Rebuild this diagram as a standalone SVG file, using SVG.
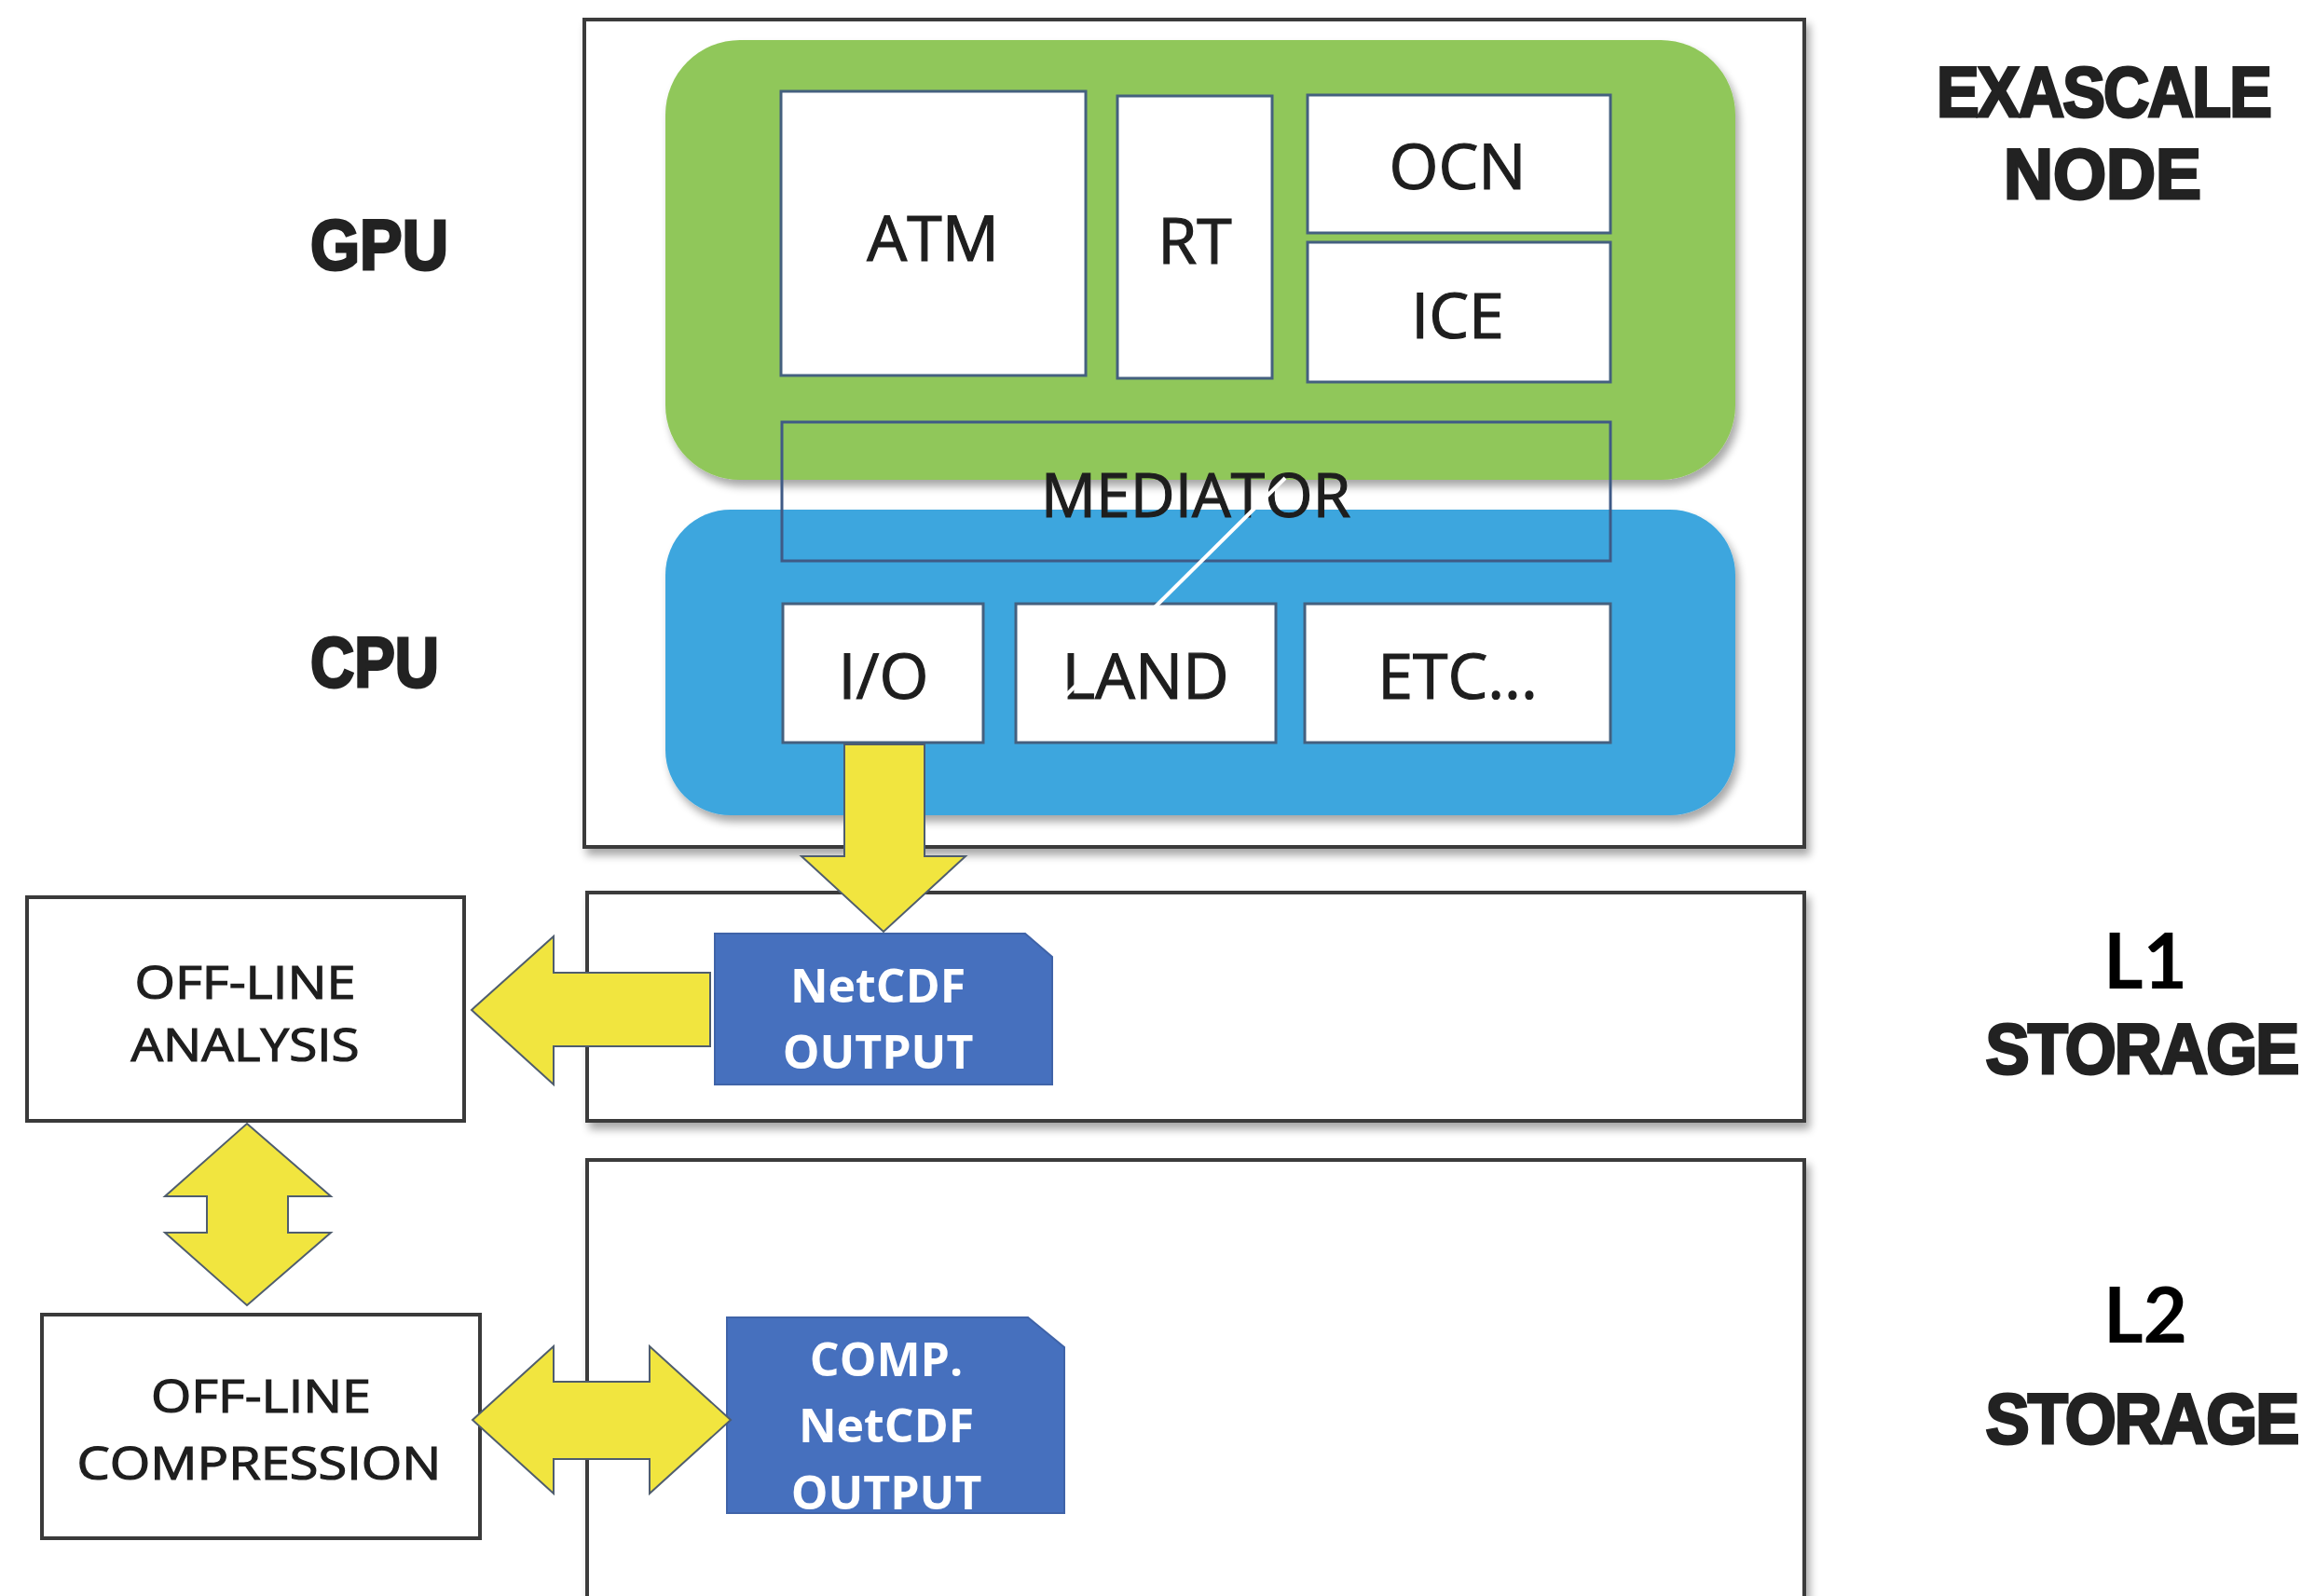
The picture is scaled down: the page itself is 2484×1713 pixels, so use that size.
<svg xmlns="http://www.w3.org/2000/svg" width="2484" height="1713" viewBox="0 0 2484 1713">
<defs>
<filter id="sh" x="-5%" y="-5%" width="110%" height="115%">
<feGaussianBlur in="SourceAlpha" stdDeviation="5"/>
<feOffset dx="4" dy="7" result="b"/>
<feComponentTransfer><feFuncA type="linear" slope="0.35"/></feComponentTransfer>
<feMerge><feMergeNode/><feMergeNode in="SourceGraphic"/></feMerge>
</filter>
<style>
.frame{fill:#fff;stroke:#3a3a3a;stroke-width:4}
.inner{fill:#fff;stroke:#44607f;stroke-width:3}
.doc{fill:#4670be;stroke:#3f63a8;stroke-width:2}
.arr{fill:#f1e53f;stroke:#4f5d6e;stroke-width:2;stroke-linejoin:miter}
.lbl{font-family:"Open Sans","Liberation Sans",sans-serif;fill:#1e1e1e;stroke:#1e1e1e;stroke-width:1.2;text-anchor:middle}
.doct{font-family:"Open Sans","Liberation Sans",sans-serif;font-weight:bold;fill:#fff;text-anchor:middle;font-size:50px}
.side{font-family:"Liberation Sans",Arial,sans-serif;font-weight:bold;fill:#222;stroke:#222;stroke-width:3;font-size:76px}
.sidec{font-family:"Liberation Sans",Arial,sans-serif;font-weight:bold;fill:#222;stroke:#222;stroke-width:3;font-size:76px;text-anchor:middle;letter-spacing:-2px}
.lev{font-family:Lato,"Open Sans",sans-serif;font-weight:bold;fill:#000;text-anchor:middle;font-size:82px}
</style>
</defs>
<rect width="2484" height="1713" fill="#fff"/>

<g id="exascale-node">
<rect class="frame" x="627" y="21" width="1309" height="888" filter="url(#sh)"/>
</g>
<g id="l1-storage">
<rect class="frame" x="630" y="958" width="1306" height="245" filter="url(#sh)"/>
</g>
<g id="l2-storage">
<rect class="frame" x="630" y="1245" width="1306" height="520" filter="url(#sh)"/>
</g>

<g id="gpu">
<rect x="714" y="43" width="1148" height="472" rx="80" ry="80" fill="#90c75a" filter="url(#sh)"/>
</g>
<g id="cpu">
<rect x="714" y="547" width="1148" height="328" rx="70" ry="70" fill="#3ca6de" filter="url(#sh)"/>
</g>

<g id="atm"><rect class="inner" x="838" y="98" width="327" height="305"/><text class="lbl" x="1001" y="280" font-size="68">ATM</text></g>
<g id="rt"><rect class="inner" x="1199" y="103" width="166" height="303"/><text class="lbl" x="1282" y="283" font-size="68">RT</text></g>
<g id="ocn"><rect class="inner" x="1403" y="102" width="325" height="148"/><text class="lbl" x="1564" y="203" font-size="68">OCN</text></g>
<g id="ice"><rect class="inner" x="1403" y="260" width="325" height="150"/><text class="lbl" x="1564" y="363" font-size="68">ICE</text></g>
<g id="mediator"><rect x="839" y="453" width="889" height="149" fill="none" stroke="#3f5a86" stroke-width="3"/><text class="lbl" x="1283" y="555" font-size="66">MEDIATOR</text></g>
<g id="io"><rect class="inner" x="840" y="648" width="215" height="149"/><text class="lbl" x="948" y="750" font-size="68">I/O</text></g>
<g id="land"><rect class="inner" x="1090" y="648" width="279" height="149"/><text class="lbl" x="1229" y="750" font-size="68">LAND</text></g>
<g id="etc"><rect class="inner" x="1400" y="648" width="328" height="149"/><text class="lbl" x="1564" y="750" font-size="68">ETC...</text></g>

<g id="netcdf-output">
<path class="doc" d="M767 1002 H1100 L1129 1027 V1164 H767 Z"/>
<text class="doct" x="942" y="1076">NetCDF</text>
<text class="doct" x="942" y="1147">OUTPUT</text>
</g>
<g id="comp-netcdf-output">
<path class="doc" d="M780 1414 H1103 L1142 1446 V1624 H780 Z"/>
<text class="doct" x="951" y="1477">COMP.</text>
<text class="doct" x="951" y="1548">NetCDF</text>
<text class="doct" x="951" y="1620">OUTPUT</text>
</g>

<g id="offline-analysis">
<rect class="frame" x="29" y="963" width="469" height="240" stroke-width="4"/>
<text class="lbl" x="263" y="1072" font-size="49" textLength="237" lengthAdjust="spacingAndGlyphs">OFF-LINE</text>
<text class="lbl" x="263" y="1139" font-size="49" textLength="245" lengthAdjust="spacingAndGlyphs">ANALYSIS</text>
</g>
<g id="offline-compression">
<rect class="frame" x="45" y="1411" width="470" height="240"/>
<text class="lbl" x="280" y="1516" font-size="49" textLength="236" lengthAdjust="spacingAndGlyphs">OFF-LINE</text>
<text class="lbl" x="278" y="1588" font-size="49" textLength="391" lengthAdjust="spacingAndGlyphs">COMPRESSION</text>
</g>

<g id="connectors">
<path class="arr" d="M906 799 H992 V919 H1036 L948 1000 L860 919 H906 Z"/>
<path class="arr" d="M762 1044 V1123 H594 V1164 L506 1084 L594 1005 V1044 Z"/>
<path class="arr" d="M265 1206 L355 1284 H309 V1323 H355 L265 1401 L177 1323 H222 V1284 H177 Z"/>
<path class="arr" d="M507 1524 L594 1445 V1483 H697 V1445 L784 1524 L697 1603 V1566 H594 V1603 Z"/>
<line x1="1379" y1="513" x2="1138" y2="752" stroke="#fff" stroke-width="4"/>
</g>

<g id="labels">
<text class="side" x="333" y="289" textLength="148" lengthAdjust="spacingAndGlyphs">GPU</text>
<text class="side" x="333" y="737" textLength="138" lengthAdjust="spacingAndGlyphs">CPU</text>
<text class="sidec" transform="translate(2257 125) scale(0.9 1)">EXASCALE</text>
<text class="side" x="2150" y="213" textLength="212" lengthAdjust="spacingAndGlyphs">NODE</text>
<text class="lev" x="2302" y="1061">L1</text>
<text class="sidec" transform="translate(2298 1152) scale(0.93 1)">STORAGE</text>
<text class="lev" x="2302" y="1441">L2</text>
<text class="sidec" transform="translate(2298 1549) scale(0.93 1)">STORAGE</text>
</g>
</svg>
